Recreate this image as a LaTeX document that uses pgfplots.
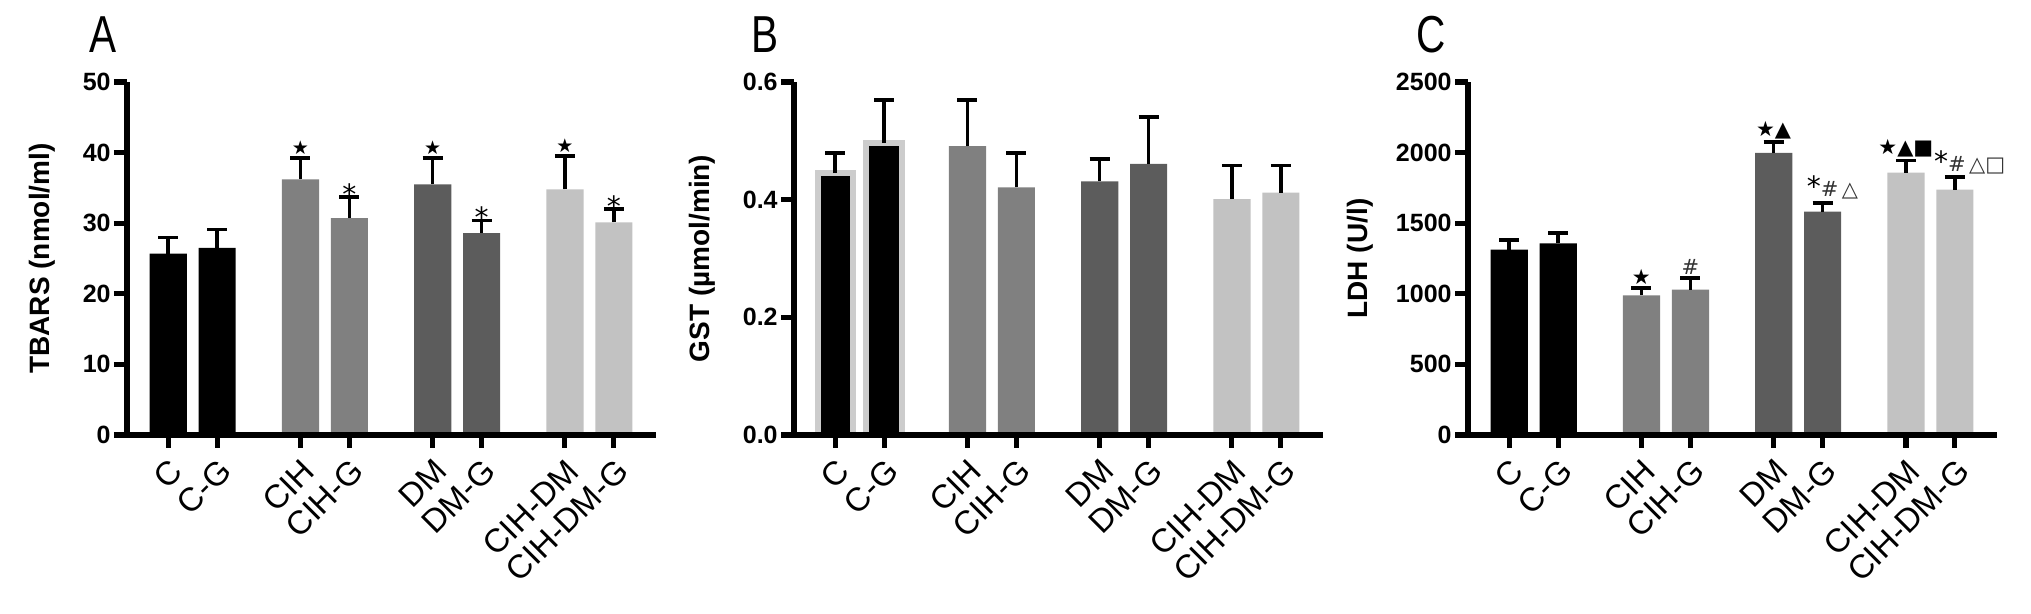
\documentclass[border=0pt]{standalone}
\usepackage{fontspec}
\setmainfont{Liberation Sans}
\newfontfamily\sym{DejaVu Sans}
\usepackage{graphicx}
\usepackage{pgfplots}
\pgfplotsset{compat=1.18}
\definecolor{gA}{gray}{0.00}
\definecolor{gB}{gray}{0.50}
\definecolor{gC}{gray}{0.36}
\definecolor{gD}{gray}{0.76}

\pgfplotsset{
  panel/.style={
    scale only axis, width=264.5pt, height=176.5pt, anchor=south west,
    xmin=-0.84, xmax=9.96, ymin=0,
    axis x line*=bottom, axis y line*=left,
    axis line style={line width=2.6pt, -},
    every tick/.style={black, line width=2.6pt},
    major tick length=6.5pt, tick align=outside,
    xtick={0,1,2.7,3.7,5.4,6.4,8.1,9.1},
    xticklabels={C,C-G,CIH,CIH-G,DM,DM-G,CIH-DM,CIH-DM-G},
    xticklabel shift=3pt,
    xticklabel style={rotate=45, anchor=north east, inner sep=1pt,
      font=\fontsize{16.5}{18}\selectfont},
    yticklabel style={font=\fontsize{12.5}{14}\selectfont\bfseries, inner sep=1.5pt},
    ylabel style={font=\fontsize{14}{16}\selectfont\bfseries, anchor=center},
    /pgf/number format/assume math mode=true,
    /pgf/number format/1000 sep={},
    clip=false, axis on top,
    every axis plot/.append style={ybar, bar width=0.76, bar shift=0pt, draw=none},
  },
  eb/.style={error bars/.cd, y dir=plus, y explicit,
    error bar style={line width=1.8pt, black},
    error mark options={rotate=90, mark size=5pt, line width=1.8pt, black}},
}
\newcommand{\ann}{\fontsize{9.5}{11}\selectfont\sym}
\newcommand{\annc}{\fontsize{10.5}{12}\selectfont\sym}
\newcommand{\astk}{{\fontsize{14}{15}\selectfont\sym *}}

\begin{document}
\begin{tikzpicture}
\useasboundingbox (0,0) rectangle (1015.5pt,307pt);

% A: TBARS
\begin{axis}[panel, at={(63.5pt,89.5pt)}, ymax=50, ytick={0,10,...,50},
  ylabel={TBARS (nmol/ml)}, ylabel style={at={(axis description cs:-0.161,0.5)}}]
  \addplot[fill=gA, eb] coordinates {(0,25.7) +- (0,2.3) (1,26.5) +- (0,2.6)};
  \addplot[fill=gB, eb] coordinates {(2.7,36.2) +- (0,3.0) (3.7,30.7) +- (0,3.0)};
  \addplot[fill=gC, eb] coordinates {(5.4,35.5) +- (0,3.7) (6.4,28.6) +- (0,1.8)};
  \addplot[fill=gD, eb] coordinates {(8.1,34.8) +- (0,4.7) (9.1,30.1) +- (0,1.9)};
  \node[anchor=south, inner sep=0.5pt, yshift=1pt] at (axis cs:2.7,39.2) {\ann ★};
  \node[anchor=south, inner sep=0.5pt, yshift=1pt] at (axis cs:5.4,39.2) {\ann ★};
  \node[anchor=south, inner sep=0.5pt, yshift=1pt] at (axis cs:8.1,39.5) {\ann ★};
  \node[anchor=south, inner sep=0.5pt, yshift=-4.5pt] at (axis cs:3.7,33.7) {\astk};
  \node[anchor=south, inner sep=0.5pt, yshift=-4.5pt] at (axis cs:6.4,30.4) {\astk};
  \node[anchor=south, inner sep=0.5pt, yshift=-4.5pt] at (axis cs:9.1,32.0) {\astk};
\end{axis}

% B: GST
\begin{axis}[panel, at={(397pt,89.5pt)}, ymax=0.6, ytick={0,0.2,0.4,0.6},
  yticklabel style={/pgf/number format/.cd, fixed, fixed zerofill, precision=1},
  ylabel={GST (µmol/min)}, ylabel style={at={(axis description cs:-0.174,0.5)}}]
  \addplot[fill=gA, draw=gray!40, line width=3pt, bar width=0.72, eb]
    coordinates {(0,0.445) +- (0,0.034) (1,0.496) +- (0,0.073)};
  \addplot[fill=gB, eb] coordinates {(2.7,0.491) +- (0,0.078) (3.7,0.421) +- (0,0.058)};
  \addplot[fill=gC, eb] coordinates {(5.4,0.431) +- (0,0.038) (6.4,0.461) +- (0,0.080)};
  \addplot[fill=gD, eb] coordinates {(8.1,0.401) +- (0,0.057) (9.1,0.412) +- (0,0.046)};
\end{axis}

% C: LDH
\begin{axis}[panel, at={(734pt,89.5pt)}, ymax=2500, ytick={0,500,...,2500},
  ylabel={LDH (U/l)}, ylabel style={at={(axis description cs:-0.203,0.5)}}]
  \addplot[fill=gA, eb] coordinates {(0,1312) +- (0,70) (1,1357) +- (0,75)};
  \addplot[fill=gB, eb] coordinates {(2.7,988) +- (0,53) (3.7,1029) +- (0,84)};
  \addplot[fill=gC, eb] coordinates {(5.4,1998) +- (0,77) (6.4,1582) +- (0,63)};
  \addplot[fill=gD, eb] coordinates {(8.1,1859) +- (0,86) (9.1,1737) +- (0,89)};
  \node[anchor=south, inner sep=0.5pt, yshift=1pt] at (axis cs:2.7,1041) {\annc ★};
  \node[anchor=south, inner sep=0.5pt, yshift=1pt] at (axis cs:3.7,1113) {\annc\color{black!80}\#};
  \node[anchor=south, inner sep=0.5pt, yshift=1pt] at (axis cs:5.4,2075) {\annc ★▲};
  \node[anchor=south, inner sep=0.5pt, yshift=1pt] at (axis cs:6.6,1645) {\astk\annc{\color{black!80}\#\,△}};
  \node[anchor=south, inner sep=0.5pt, yshift=1pt] at (axis cs:8.1,1945) {\annc ★▲■};
  \node[anchor=south, inner sep=0.5pt, yshift=1pt] at (axis cs:9.4,1826) {\astk\annc{\color{black!80}\#\,△□}};
\end{axis}

\node[font=\fontsize{26}{28}\selectfont] at (51.5pt,289.5pt) {\scalebox{0.78}[1]{A}};
\node[font=\fontsize{26}{28}\selectfont] at (382.5pt,289.5pt) {\scalebox{0.78}[1]{B}};
\node[font=\fontsize{26}{28}\selectfont] at (715.5pt,289.5pt) {\scalebox{0.78}[1]{C}};
\end{tikzpicture}
\end{document}
